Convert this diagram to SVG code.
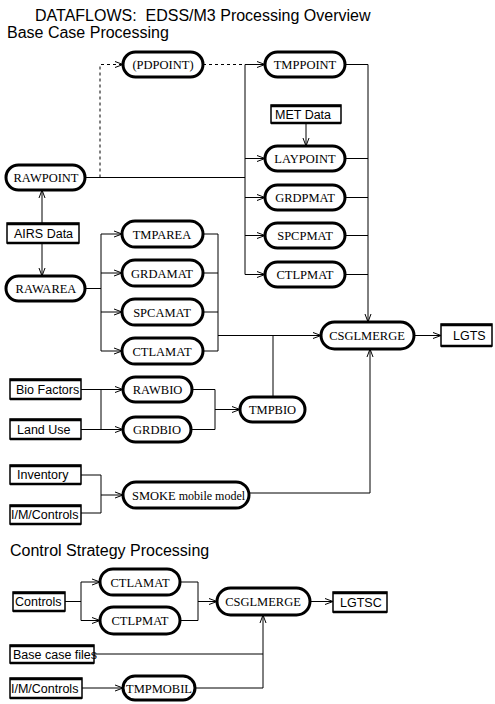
<svg xmlns="http://www.w3.org/2000/svg" width="495" height="704" viewBox="0 0 495 704">
<style>
.bg{fill:#fff}
.nd{fill:#fff;stroke:#000;stroke-width:3}
.bx{fill:#fff;stroke:#000;stroke-width:1.5}
.sh{stroke:#000;stroke-width:2.5}
.ln{fill:none;stroke:#000;stroke-width:1}
.ds{fill:none;stroke:#000;stroke-width:1;stroke-dasharray:3,3}
.ar{marker-end:url(#a)}
.nt{font-family:"Liberation Serif","Times New Roman",serif;font-size:12.5px;text-anchor:middle;fill:#000}
.bt{font-family:"Liberation Sans",Arial,sans-serif;font-size:12.5px;fill:#000}
.tt{font-family:"Liberation Sans",Arial,sans-serif;font-size:16px;fill:#000}
</style>
<defs>
<marker id="a" markerWidth="10" markerHeight="8" refX="9" refY="4" orient="auto" markerUnits="userSpaceOnUse">
<path d="M1,1 L9,4 L1,7" fill="none" stroke="#000" stroke-width="1"/>
</marker>
</defs>
<rect class="bg" x="0" y="0" width="495" height="704"/>
<text class="tt" x="35" y="21">DATAFLOWS:&#160; EDSS/M3 Processing Overview</text>
<text class="tt" x="7" y="38">Base Case Processing</text>
<text class="tt" x="10" y="556">Control Strategy Processing</text>

<g id="connectors">
<path class="ln" d="M85,177.5 H245"/>
<path class="ds ar" d="M100,177.5 V64.5 H123"/>
<path class="ds" d="M203,64.5 H245"/>
<path class="ln" d="M245,64.5 V274.5"/>
<path class="ln ar" d="M245,64.5 H265"/>
<path class="ln ar" d="M245,158.5 H265"/>
<path class="ln ar" d="M245,197.5 H265"/>
<path class="ln ar" d="M245,235.5 H265"/>
<path class="ln ar" d="M245,274.5 H265"/>
<path class="ln ar" d="M306,123 V146"/>
<path class="ln" d="M345,64.5 H368 M345,158.5 H368 M345,197.5 H368 M345,235.5 H368 M345,274.5 H368"/>
<path class="ln ar" d="M368,64.5 V322"/>
<path class="ln ar" d="M42,223 V190"/>
<path class="ln ar" d="M42,243 V276"/>
<path class="ln" d="M85,288.5 H101 M101,234 V351"/>
<path class="ln ar" d="M101,234 H122"/>
<path class="ln ar" d="M101,273 H122"/>
<path class="ln ar" d="M101,312 H122"/>
<path class="ln ar" d="M101,351 H122"/>
<path class="ln" d="M203,234 H218 M203,273 H218 M203,312 H218 M203,351 H218 M218,234 V351"/>
<path class="ln ar" d="M218,335.5 H321"/>
<path class="ln" d="M273,335.5 V397"/>
<path class="ln ar" d="M414,335.5 H441"/>
<path class="ln" d="M81,389.5 H101 M81,429.5 H101 M101,389.5 V429.5"/>
<path class="ln ar" d="M101,389.5 H123"/>
<path class="ln ar" d="M101,429.5 H123"/>
<path class="ln" d="M192,389.5 H215 M191,429.5 H215 M215,389.5 V429.5"/>
<path class="ln ar" d="M215,409.5 H240"/>
<path class="ln" d="M81,475 H101 M81,513 H101 M101,475 V513"/>
<path class="ln ar" d="M101,495 H123"/>
<path class="ln ar" d="M249,493 H370 V349"/>
<path class="ln" d="M65,601.5 H81 M81,582 V620.5"/>
<path class="ln ar" d="M81,582 H100"/>
<path class="ln ar" d="M81,620.5 H100"/>
<path class="ln" d="M180,582 H198 M180,620.5 H198 M198,582 V620.5"/>
<path class="ln ar" d="M198,601.5 H217"/>
<path class="ln ar" d="M310,601.5 H333"/>
<path class="ln" d="M94,654 H263"/>
<path class="ln ar" d="M82,688 H123"/>
<path class="ln ar" d="M195,688 H263 V615"/>
</g>

<g id="pdpoint"><rect class="nd" x="123" y="52" width="80" height="25" rx="12.5"/><text class="nt" x="163" y="69">(PDPOINT)</text></g>
<g id="tmppoint"><rect class="nd" x="265" y="52" width="80" height="25" rx="12.5"/><text class="nt" x="305" y="69">TMPPOINT</text></g>
<g id="metdata"><rect class="bx" x="271" y="105" width="70" height="18"/><line class="sh" x1="271" y1="106" x2="341" y2="106"/><line class="sh" x1="271" y1="123" x2="341" y2="123"/><text class="bt" x="275" y="118.5">MET Data</text></g>
<g id="laypoint"><rect class="nd" x="265" y="146" width="80" height="25" rx="12.5"/><text class="nt" x="305" y="163">LAYPOINT</text></g>
<g id="grdpmat"><rect class="nd" x="265" y="185" width="80" height="25" rx="12.5"/><text class="nt" x="305" y="202">GRDPMAT</text></g>
<g id="spcpmat"><rect class="nd" x="265" y="223" width="80" height="25" rx="12.5"/><text class="nt" x="305" y="240">SPCPMAT</text></g>
<g id="ctlpmat"><rect class="nd" x="265" y="262" width="80" height="25" rx="12.5"/><text class="nt" x="305" y="279">CTLPMAT</text></g>
<g id="rawpoint"><rect class="nd" x="6" y="165" width="79" height="25" rx="12.5"/><text class="nt" x="46" y="182">RAWPOINT</text></g>
<g id="airsdata"><rect class="bx" x="7" y="223" width="72" height="20"/><line class="sh" x1="7" y1="224" x2="79" y2="224"/><line class="sh" x1="7" y1="243" x2="79" y2="243"/><text class="bt" x="14" y="238">AIRS Data</text></g>
<g id="rawarea"><rect class="nd" x="6" y="276" width="79" height="25" rx="12.5"/><text class="nt" x="46" y="293">RAWAREA</text></g>
<g id="tmparea"><rect class="nd" x="122" y="221" width="81" height="26" rx="13"/><text class="nt" x="162" y="238.5">TMPAREA</text></g>
<g id="grdamat"><rect class="nd" x="122" y="260" width="81" height="26" rx="13"/><text class="nt" x="162" y="277.5">GRDAMAT</text></g>
<g id="spcamat"><rect class="nd" x="122" y="299" width="81" height="26" rx="13"/><text class="nt" x="162" y="316.5">SPCAMAT</text></g>
<g id="ctlamat"><rect class="nd" x="122" y="338" width="81" height="26" rx="13"/><text class="nt" x="162" y="355.5">CTLAMAT</text></g>
<g id="csglmerge"><rect class="nd" x="321" y="322" width="93" height="27" rx="13.5"/><text class="nt" x="367" y="340">CSGLMERGE</text></g>
<g id="lgts"><rect class="bx" x="441" y="324" width="51" height="22"/><line class="sh" x1="441" y1="325" x2="492" y2="325"/><line class="sh" x1="441" y1="346" x2="492" y2="346"/><text class="bt" x="453" y="340">LGTS</text></g>
<g id="biofactors"><rect class="bx" x="10" y="379" width="71" height="20"/><line class="sh" x1="10" y1="380" x2="81" y2="380"/><line class="sh" x1="10" y1="399" x2="81" y2="399"/><text class="bt" x="16" y="394">Bio Factors</text></g>
<g id="landuse"><rect class="bx" x="10" y="419" width="71" height="20"/><line class="sh" x1="10" y1="420" x2="81" y2="420"/><line class="sh" x1="10" y1="439" x2="81" y2="439"/><text class="bt" x="17" y="434">Land Use</text></g>
<g id="rawbio"><rect class="nd" x="123" y="377" width="69" height="25" rx="12.5"/><text class="nt" x="157.5" y="394">RAWBIO</text></g>
<g id="grdbio"><rect class="nd" x="123" y="417" width="68" height="25" rx="12.5"/><text class="nt" x="157" y="434">GRDBIO</text></g>
<g id="tmpbio"><rect class="nd" x="240" y="397" width="65" height="25" rx="12.5"/><text class="nt" x="272.5" y="414">TMPBIO</text></g>
<g id="inventory"><rect class="bx" x="10" y="465" width="71" height="19"/><line class="sh" x1="10" y1="466" x2="81" y2="466"/><line class="sh" x1="10" y1="484" x2="81" y2="484"/><text class="bt" x="17" y="479">Inventory</text></g>
<g id="imcontrols"><rect class="bx" x="10" y="505" width="71" height="19"/><line class="sh" x1="10" y1="506" x2="81" y2="506"/><line class="sh" x1="10" y1="524" x2="81" y2="524"/><text class="bt" x="11" y="519">I/M/Controls</text></g>
<g id="smoke"><rect class="nd" x="123" y="482" width="126" height="26" rx="13"/><text x="132" y="499.5" style="font-family:'Liberation Serif','Times New Roman',serif;fill:#000"><tspan font-size="12.5">SMOKE</tspan><tspan font-size="12"> mobile model</tspan></text></g>
<g id="ctlamat2"><rect class="nd" x="100" y="569" width="80" height="26" rx="13"/><text class="nt" x="140" y="586.5">CTLAMAT</text></g>
<g id="controls"><rect class="bx" x="13" y="592" width="52" height="19"/><line class="sh" x1="13" y1="593" x2="65" y2="593"/><line class="sh" x1="13" y1="611" x2="65" y2="611"/><text class="bt" x="15" y="606">Controls</text></g>
<g id="ctlpmat2"><rect class="nd" x="100" y="607" width="80" height="27" rx="13.5"/><text class="nt" x="140" y="625">CTLPMAT</text></g>
<g id="csglmerge2"><rect class="nd" x="217" y="588" width="93" height="27" rx="13.5"/><text class="nt" x="263" y="606">CSGLMERGE</text></g>
<g id="lgtsc"><rect class="bx" x="333" y="592" width="54" height="20"/><line class="sh" x1="333" y1="593" x2="387" y2="593"/><line class="sh" x1="333" y1="612" x2="387" y2="612"/><text class="bt" x="340" y="607">LGTSC</text></g>
<g id="basecasefiles"><rect class="bx" x="10" y="645" width="84" height="18"/><line class="sh" x1="10" y1="646" x2="94" y2="646"/><line class="sh" x1="10" y1="663" x2="94" y2="663"/><text class="bt" x="13" y="658.5">Base case files</text></g>
<g id="imcontrols2"><rect class="bx" x="10" y="678" width="72" height="20"/><line class="sh" x1="10" y1="679" x2="82" y2="679"/><line class="sh" x1="10" y1="698" x2="82" y2="698"/><text class="bt" x="11" y="693">I/M/Controls</text></g>
<g id="tmpmobil"><rect class="nd" x="123" y="676" width="72" height="24" rx="12"/><text class="nt" x="159" y="692.5">TMPMOBIL</text></g>
</svg>
